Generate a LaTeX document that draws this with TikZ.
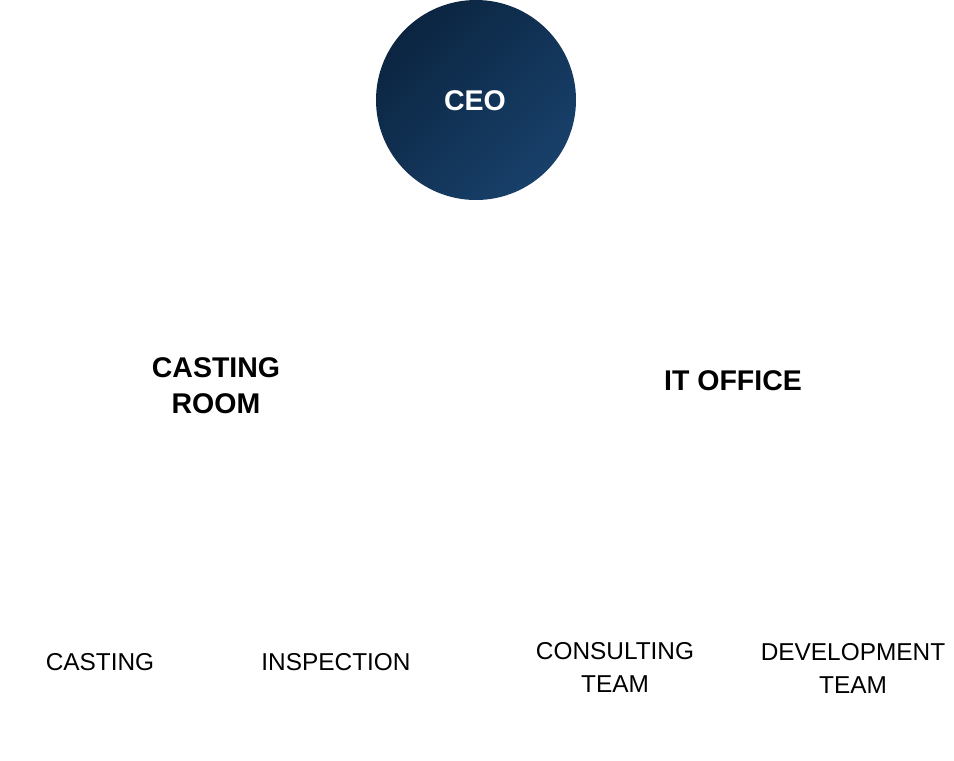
\documentclass[tikz,border=0pt]{standalone}
\usepackage{fontspec}
\setmainfont{Liberation Sans}
\begin{document}
\begin{tikzpicture}[x=1pt,y=-1pt,
  head/.style={font=\bfseries\fontsize{28.5}{36}\selectfont, align=center, inner sep=0pt, text=black},
  leaf/.style={font=\fontsize{24.4}{33}\selectfont, align=center, inner sep=0pt, text=black}]
\useasboundingbox[fill=white] (0,0) rectangle (954,761);
\shade[left color={rgb,255:red,11;green,37;blue,65}, right color={rgb,255:red,24;green,64;blue,106}, shading angle=45] (476,100) circle (100);
\node[font=\bfseries\fontsize{28.5}{30}\selectfont, text=white, inner sep=0pt] (ceo) at (475,101) {CEO};
\node[head] (casting) at (216,386) {CASTING\\ ROOM};
\node[head] (it) at (733,381) {IT OFFICE};
\node[leaf] (c1) at (100,662) {CASTING};
\node[leaf] (c2) at (336,662) {INSPECTION};
\node[leaf] (c3) at (615,667) {CONSULTING\\TEAM};
\node[leaf] (c4) at (853,668) {DEVELOPMENT\\TEAM};
\end{tikzpicture}
\end{document}
